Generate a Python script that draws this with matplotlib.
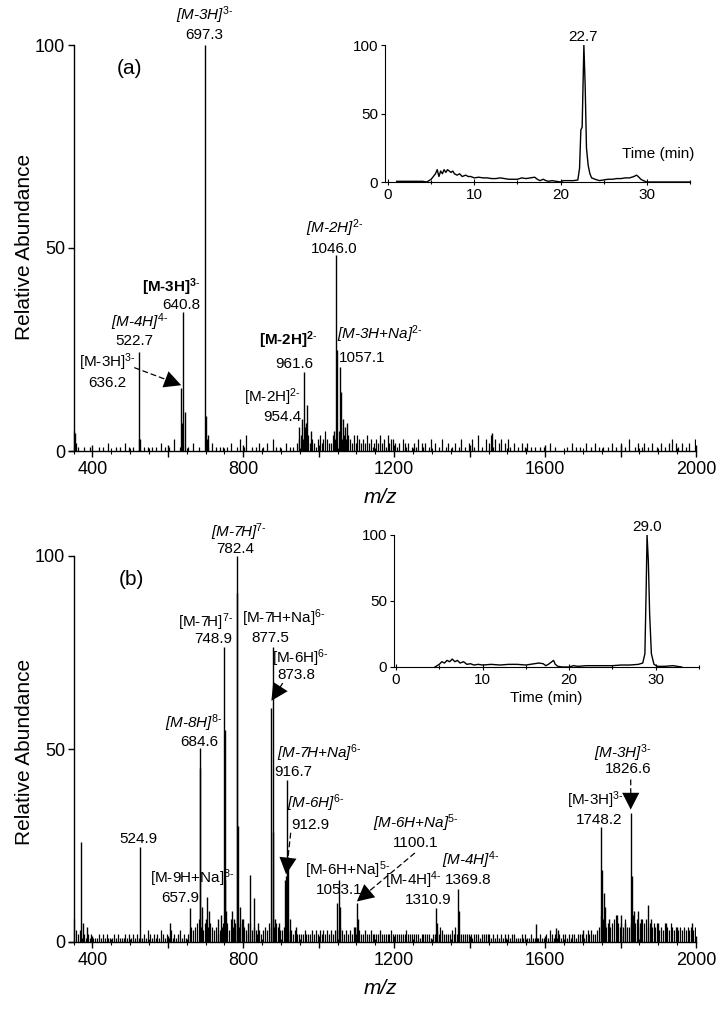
import matplotlib
matplotlib.use('Agg')
import matplotlib.pyplot as plt
import numpy as np
from matplotlib.ticker import MultipleLocator, FuncFormatter

plt.rcParams['font.family'] = ['Liberation Sans', 'DejaVu Sans']
plt.rcParams['mathtext.fontset'] = 'custom'
plt.rcParams['mathtext.rm'] = 'Liberation Sans'
plt.rcParams['mathtext.it'] = 'Liberation Sans:italic'
plt.rcParams['mathtext.bf'] = 'Liberation Sans:bold'

# ---------------- data: panel (a) mass spectrum ----------------
peaks_a_mz = [353, 522.7, 525, 636.2, 638, 640.8, 645, 697.3, 702, 706,
              948, 954.4, 961.6, 966, 970, 980, 1040, 1046.0, 1047.5,
              1057.1, 1060, 1065, 1070, 1075, 1459]
peaks_a_h = [4.5, 24.4, 3, 15.5, 7, 34.3, 9.7, 100, 8.5, 4,
             6, 8, 19.5, 7, 11.3, 5, 5, 48.3, 25,
             20.7, 14.5, 8, 6, 7, 4.5]
# noise sticks, one digit (% abundance) per 5 m/z bin from 350
noise_a = ("52100100100001010020"
           "00101002010100300101"
           "01010020101003001200"
           "10020010003102010101"
           "01020010301400101020"
           "10200301010020101023"
           "43654232134235322432"
           "54343432424323242312"
           "32423142332120321201"
           "21302120130201030120"
           "10201301020310401030"
           "24130230203102010201"
           "20101001010020010000"
           "01002010100200102010"
           "10010201002010300102"
           "01201020010201020302"
           "1020102003")

# ---------------- data: panel (b) mass spectrum ----------------
peaks_b_mz = [371, 376, 385, 524.9, 607, 657.9, 684.6, 686.5, 690, 700, 705,
              710, 732, 740, 748.9, 750.6, 752, 755, 770, 775, 782.4, 784,
              786, 790, 800, 812, 818, 828, 840, 873.8, 877.5, 880, 885,
              895, 910, 912.9, 916.7, 919, 925, 940, 1048, 1053.1, 1056,
              1095, 1100.1, 1104, 1310.9, 1314, 1369.8, 1372, 1575, 1630,
              1635, 1700, 1748.2, 1752, 1756, 1760, 1770, 1790, 1800, 1812,
              1826.6, 1830, 1835, 1845, 1855, 1872, 1880, 1900, 1920, 1950,
              1990]
peaks_b_h = [26, 5, 4, 24.6, 5, 8.8, 50.2, 45, 9, 6, 11.7,
             8, 6, 7, 76.4, 55, 16, 8, 8, 6, 100, 90.4,
             30, 9, 6, 5, 17.4, 11.4, 5, 60.6, 76.4, 28.5, 6,
             5, 16, 17, 42, 22, 6, 4, 10, 16, 9,
             4, 10, 6, 8.8, 5, 13.8, 8, 4.7, 3.5,
             3, 3, 29.8, 18.6, 12.6, 9, 6, 7, 7, 5,
             33.4, 17, 8, 8, 6, 9.6, 6, 5, 5, 4,
             5]
noise_b = ("63231212121112121211"
           "12121112121212111213"
           "21212132121312123121"
           "23434564353454342345"
           "45364534564325343232"
           "34354645433423232322"
           "22322232323232323233"
           "34323232424322322322"
           "22322222322222223222"
           "22212222212232432222"
           "32422222222122212222"
           "21212121212122111212"
           "11211112112132121212"
           "21212212221232322347"
           "65454567545464457564"
           "56564545453435435434"
           "3434343434")

# ---------------- data: chromatograms (insets) ----------------
tic_a_t = [1.0, 4.0, 4.5, 5.0, 5.5, 5.7, 5.9, 6.1, 6.3, 6.5, 6.7, 6.9, 7.1, 7.3,
           7.5, 7.7, 8.0, 8.3, 8.6, 9.0, 9.3, 9.6, 10.0, 10.5, 11.0, 11.5, 12.0,
           12.5, 13.0, 13.5, 14.0, 14.5, 15.0, 15.5, 16.0, 16.5, 17.0, 17.3,
           17.6, 18.0, 18.3, 18.6, 19.0, 19.5, 20.0, 20.3, 21.0, 21.5, 22.0,
           22.2, 22.35, 22.5, 22.7, 22.85, 23.0, 23.2, 23.4, 23.6, 24.0, 24.5,
           25.0, 25.5, 26.0, 26.5, 27.0, 27.5, 28.0, 28.5, 28.8, 29.0, 29.3,
           29.6, 30.0, 35.0]
tic_a_i = [0.5, 0.5, 0, 2, 6, 9, 4, 8, 6, 9, 7, 9, 8, 7,
           8, 6, 5, 6, 4, 5, 4, 4, 3, 3.5, 3, 3, 2.5,
           2.5, 3, 2.5, 2, 2, 2, 3, 2.5, 3, 3.5, 2,
           1, 2, 1, 0.5, 1, 0.5, 0, 1, 1, 1, 1.5,
           10, 38, 40, 100, 70, 25, 12, 6, 3, 2, 1,
           1.5, 2, 2, 2.5, 2.5, 3, 3, 4, 5, 4, 2,
           1, 0, 0]
tic_b_t = [4.5, 5.0, 5.3, 5.6, 5.9, 6.2, 6.5, 6.8, 7.1, 7.4, 7.8, 8.2, 8.6,
           9.0, 9.5, 10, 11, 12, 13, 14, 15, 15.5, 16, 16.5, 17.0, 17.3, 17.6,
           18.0, 18.2, 18.4, 18.7, 19.2, 20, 20.5, 21, 22, 23, 24, 25, 26, 27,
           28, 28.5, 28.75, 28.9, 29.0, 29.15, 29.3, 29.5, 29.8, 30.2, 31, 32,
           33]
tic_b_i = [0, 2, 4, 3, 5, 4, 6, 4, 5, 3, 4, 2, 2.5,
           1.5, 2, 1.5, 2, 1.5, 2, 2, 1.5, 2, 2.5, 3, 2.5, 1, 2,
           4, 5, 2, 0.5, 0, 0, 1, 0.5, 1, 1, 1, 1, 1.5, 1.5,
           2, 3, 10, 60, 100, 80, 40, 10, 2, 0.5, 0.5, 1,
           0]

# ---------------- figure ----------------
fig = plt.figure(figsize=(7.25, 10.28), dpi=100)
W, H = 725.0, 1028.0

def box(l, r, b, t):
    return [l / W, 1 - b / H, (r - l) / W, (b - t) / H]

ax_a = fig.add_axes(box(69, 696, 451, 45))
ax_b = fig.add_axes(box(69, 696, 942, 556))

def style_main(ax):
    ax.set_xlim(338, 2000)
    ax.set_ylim(0, 100)
    for s in ['top', 'right']:
        ax.spines[s].set_visible(False)
    ax.spines['left'].set_position(('data', 350))
    ax.spines['left'].set_linewidth(1.0)
    ax.spines['bottom'].set_linewidth(1.0)
    ax.xaxis.set_major_locator(MultipleLocator(200))
    ax.xaxis.set_minor_locator(MultipleLocator(50))
    ax.xaxis.set_major_formatter(FuncFormatter(
        lambda v, p: f"{int(v)}" if int(v) % 400 == 0 else ""))
    ax.set_yticks([0, 50, 100])
    ax.tick_params(axis='x', which='major', direction='inout', length=8,
                   width=1, labelsize=13, pad=3)
    ax.tick_params(axis='x', which='minor', direction='inout', length=4,
                   width=0.8)
    ax.tick_params(axis='y', direction='out', length=4, width=1,
                   labelsize=13, pad=2)

def spectrum(ax, pmz, ph, noise):
    nh = np.array([int(c) for c in noise], float)
    nmz = 352.5 + 5.0 * np.arange(len(nh))
    m = nh > 0
    ax.vlines(nmz[m], 0, nh[m], color='k', lw=0.9)
    ax.vlines(pmz, 0, ph, color='k', lw=1.0)

style_main(ax_a)
style_main(ax_b)
spectrum(ax_a, peaks_a_mz, peaks_a_h, noise_a)
spectrum(ax_b, peaks_b_mz, peaks_b_h, noise_b)

FS = 11

def lab(ax, x, y, s, style='normal', weight='normal', ha='center', size=FS):
    ax.text(x, y, s, ha=ha, va='center', fontsize=size, fontstyle=style,
            fontweight=weight, clip_on=False)

def sup_n(c):
    return r"$^{\mathrm{" + c + r"}\text{-}}$"

def sup_i(c):
    return r"$^{\mathit{" + c + r"}\text{-}}$"

def sup_b(c):
    return r"$^{\mathbf{" + c + r"}\text{-}}$"

def arrow(ax, x0, y0, x1, y1):
    # dashed shaft
    ax.annotate('', xy=(x1, y1), xytext=(x0, y0),
                arrowprops=dict(arrowstyle='-', linestyle=(0, (4, 3)),
                                color='k', lw=0.9, shrinkA=0, shrinkB=8))
    # solid filled head
    ax.annotate('', xy=(x1, y1), xytext=(x0, y0),
                arrowprops=dict(arrowstyle='-|>,head_length=0.55,head_width=0.28',
                                color='k', lw=0, mutation_scale=22,
                                shrinkA=0, shrinkB=0))

# panel (a) labels
lab(ax_a, 697.5, 107.4, "[M-3H]" + sup_i("3"), style='italic')
lab(ax_a, 697.5, 102.5, "697.3")
lab(ax_a, 498, 94.3, "(a)", size=15)
lab(ax_a, 610, 40.4, "[M-3H]" + sup_b("3"), weight='bold')
lab(ax_a, 636.5, 36, "640.8")
lab(ax_a, 525, 31.8, "[M-4H]" + sup_i("4"), style='italic')
lab(ax_a, 512, 27.1, "522.7")
lab(ax_a, 440, 21.9, "[M-3H]" + sup_n("3"))
lab(ax_a, 440, 16.7, "636.2")
arrow(ax_a, 512, 20.5, 635.5, 16.2)
lab(ax_a, 920, 27.3, "[M-2H]" + sup_b("2"), weight='bold')
lab(ax_a, 936, 21.4, "961.6")
lab(ax_a, 878, 13.3, "[M-2H]" + sup_n("2"))
lab(ax_a, 904, 8.4, "954.4")
lab(ax_a, 1042, 54.9, "[M-2H]" + sup_i("2"), style='italic')
lab(ax_a, 1040, 49.8, "1046.0")
lab(ax_a, 1047.6, 28.8, "[M-3H+Na]" + sup_i("2"), style='italic', ha='left')
lab(ax_a, 1053, 22.9, "1057.1", ha='left')

# panel (b) labels
lab(ax_b, 787.7, 106.2, "[M-7H]" + sup_i("7"), style='italic')
lab(ax_b, 779.7, 101.8, "782.4")
lab(ax_b, 504, 94.0, "(b)", size=15)
lab(ax_b, 700, 82.9, "[M-7H]" + sup_n("7"))
lab(ax_b, 721, 78.5, "748.9")
lab(ax_b, 907, 83.9, "[M-7H+Na]" + sup_n("6"))
lab(ax_b, 872.5, 78.8, "877.5")
lab(ax_b, 952, 73.6, "[M-6H]" + sup_n("6"))
lab(ax_b, 941.5, 69.2, "873.8")
arrow(ax_b, 904, 67, 874.5, 62.5)
lab(ax_b, 668, 56.7, "[M-8H]" + sup_i("8"), style='italic')
lab(ax_b, 684, 51.8, "684.6")
lab(ax_b, 1000, 49.0, "[M-7H+Na]" + sup_i("6"), style='italic')
lab(ax_b, 933.6, 44.0, "916.7")
lab(ax_b, 992, 36.0, "[M-6H]" + sup_i("6"), style='italic')
lab(ax_b, 978.6, 30.3, "912.9")
arrow(ax_b, 925.6, 28.2, 913.5, 17.5)
lab(ax_b, 522.4, 26.7, "524.9")
lab(ax_b, 665.6, 16.6, "[M-9H+Na]" + sup_n("8"))
lab(ax_b, 633.8, 11.4, "657.9")
lab(ax_b, 1076.8, 18.7, "[M-6H+Na]" + sup_n("5"))
lab(ax_b, 1053, 13.5, "1053.1")
lab(ax_b, 1257, 30.8, "[M-6H+Na]" + sup_i("5"), style='italic')
lab(ax_b, 1257, 25.6, "1100.1")
arrow(ax_b, 1254, 23, 1101, 10.5)
lab(ax_b, 1403, 21.2, "[M-4H]" + sup_i("4"), style='italic')
lab(ax_b, 1395, 16.1, "1369.8")
lab(ax_b, 1252, 16.1, "[M-4H]" + sup_n("4"))
lab(ax_b, 1289, 10.9, "1310.9")
lab(ax_b, 1806, 49.0, "[M-3H]" + sup_i("3"), style='italic')
lab(ax_b, 1819.5, 44.8, "1826.6")
arrow(ax_b, 1827, 42, 1827, 34.3)
lab(ax_b, 1734.6, 36.8, "[M-3H]" + sup_n("3"))
lab(ax_b, 1742.6, 31.6, "1748.2")

# axis titles
for yc in (247, 752):
    fig.text(25 / W, 1 - yc / H, "Relative Abundance", rotation=90,
             ha='center', va='center', fontsize=15)
for yc in (497, 988):
    fig.text(380 / W, 1 - yc / H, "m/z", ha='center', va='center',
             fontsize=15, fontstyle='italic')

# ---------------- insets ----------------
in_a = fig.add_axes(box(385, 690, 182, 45))
in_b = fig.add_axes(box(394, 699, 667, 535))

def style_inset(ax, x0):
    ax.set_xlim(x0, 35)
    ax.set_ylim(0, 100)
    for s in ['top', 'right']:
        ax.spines[s].set_visible(False)
    ax.set_xticks([0, 10, 20, 30])
    ax.set_yticks([0, 50, 100])
    ax.xaxis.set_minor_locator(MultipleLocator(5))
    ax.tick_params(axis='x', which='major', direction='inout', length=5,
                   width=0.8, labelsize=11, pad=2)
    ax.tick_params(axis='x', which='minor', direction='inout', length=3,
                   width=0.8)
    ax.tick_params(axis='y', direction='out', length=3, width=0.8,
                   labelsize=11, pad=2)
    ax.patch.set_alpha(0)

style_inset(in_a, -0.35)
style_inset(in_b, -0.23)
in_a.plot(tic_a_t, tic_a_i, color='k', lw=1.0)
in_b.plot(tic_b_t, tic_b_i, color='k', lw=1.0)
in_a.text(22.6, 105.8, "22.7", ha='center', va='center', fontsize=11,
          clip_on=False)
in_a.text(31.3, 20.4, "Time (min)", ha='center', va='center', fontsize=11)
in_b.text(28.95, 106, "29.0", ha='center', va='center', fontsize=11,
          clip_on=False)
in_b.set_xlabel("Time (min)", fontsize=11, labelpad=3)

fig.savefig("out.png", dpi=100)
